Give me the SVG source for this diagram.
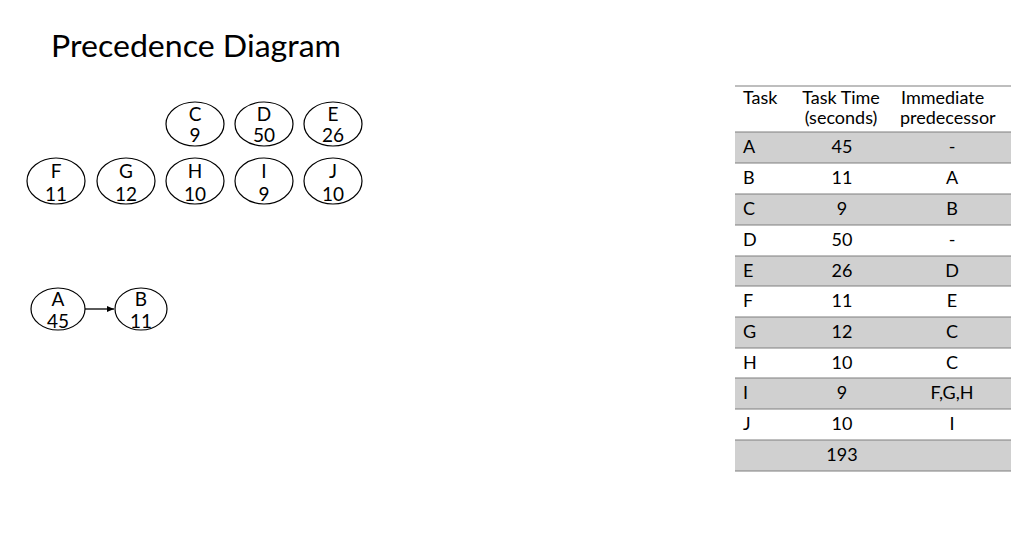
<svg xmlns="http://www.w3.org/2000/svg" width="1024" height="552" viewBox="0 0 1024 552">
<style>
text{font-family:Lato,"Open Sans","Liberation Sans",sans-serif;fill:#000}
.title{font-size:30px}
.n{font-size:19px;text-anchor:middle}
.t{font-size:18px}
.c{text-anchor:middle}
ellipse{fill:#fff;stroke:#000;stroke-width:1.2}
.g{fill:#d0d0d0}
.ln{stroke:#7f7f7f;stroke-width:1.2}
.conn{stroke:#000;stroke-width:1.3;fill:none}
</style>
<defs>
<marker id="ah" markerWidth="8" markerHeight="8" refX="7" refY="4" orient="auto" markerUnits="userSpaceOnUse">
<path d="M0,1 L7,4 L0,7 z" fill="#000"/>
</marker>
</defs>
<rect width="1024" height="552" fill="#fff"/>
<text class="title" x="51" y="57" textLength="290" lengthAdjust="spacingAndGlyphs">Precedence Diagram</text>

<g id="connectors">
<line class="conn" x1="85" y1="309" x2="114" y2="309" marker-end="url(#ah)"/>
</g>

<g id="node-C"><ellipse cx="195" cy="124" rx="29" ry="22"/><text class="n" x="195" y="121">C</text><text class="n" x="195" y="142">9</text></g>
<g id="node-D"><ellipse cx="264" cy="124" rx="29" ry="22"/><text class="n" x="264" y="121">D</text><text class="n" x="264" y="142">50</text></g>
<g id="node-E"><ellipse cx="333" cy="124" rx="29" ry="22"/><text class="n" x="333" y="121">E</text><text class="n" x="333" y="142">26</text></g>
<g id="node-F"><ellipse cx="56" cy="181" rx="29" ry="23"/><text class="n" x="56" y="178">F</text><text class="n" x="56" y="201">11</text></g>
<g id="node-G"><ellipse cx="126" cy="181" rx="29" ry="23"/><text class="n" x="126" y="178">G</text><text class="n" x="126" y="201">12</text></g>
<g id="node-H"><ellipse cx="195" cy="181" rx="29" ry="23"/><text class="n" x="195" y="178">H</text><text class="n" x="195" y="201">10</text></g>
<g id="node-I"><ellipse cx="264" cy="181" rx="29" ry="23"/><text class="n" x="264" y="178">I</text><text class="n" x="264" y="201">9</text></g>
<g id="node-J"><ellipse cx="333" cy="181" rx="29" ry="23"/><text class="n" x="333" y="178">J</text><text class="n" x="333" y="201">10</text></g>
<g id="node-A"><ellipse cx="58" cy="309" rx="27" ry="21"/><text class="n" x="58" y="306">A</text><text class="n" x="58" y="328">45</text></g>
<g id="node-B"><ellipse cx="141" cy="309" rx="26" ry="21"/><text class="n" x="141" y="306">B</text><text class="n" x="141" y="328">11</text></g>

<g id="table">
<rect class="g" x="735" y="132" width="276" height="31"/>
<rect class="g" x="735" y="194" width="276" height="31"/>
<rect class="g" x="735" y="256" width="276" height="30"/>
<rect class="g" x="735" y="317" width="276" height="31"/>
<rect class="g" x="735" y="378" width="276" height="31"/>
<rect class="g" x="735" y="440" width="276" height="31"/>
<g class="ln">
<line x1="735" y1="86" x2="1011" y2="86"/>
<line x1="735" y1="132" x2="1011" y2="132"/>
<line x1="735" y1="163" x2="1011" y2="163"/>
<line x1="735" y1="194" x2="1011" y2="194"/>
<line x1="735" y1="225" x2="1011" y2="225"/>
<line x1="735" y1="256" x2="1011" y2="256"/>
<line x1="735" y1="286" x2="1011" y2="286"/>
<line x1="735" y1="317" x2="1011" y2="317"/>
<line x1="735" y1="348" x2="1011" y2="348"/>
<line x1="735" y1="378" x2="1011" y2="378"/>
<line x1="735" y1="409" x2="1011" y2="409"/>
<line x1="735" y1="440" x2="1011" y2="440"/>
<line x1="735" y1="471" x2="1011" y2="471"/>
</g>
<text class="t" x="743" y="104">Task</text>
<text class="t c" x="841" y="104">Task Time</text>
<text class="t c" x="841" y="124">(seconds)</text>
<text class="t" x="901" y="104">Immediate</text>
<text class="t" x="900" y="124">predecessor</text>

<text class="t" x="743" y="153">A</text><text class="t c" x="842" y="153">45</text><text class="t c" x="952" y="153">-</text>
<text class="t" x="743" y="184">B</text><text class="t c" x="842" y="184">11</text><text class="t c" x="952" y="184">A</text>
<text class="t" x="743" y="215">C</text><text class="t c" x="842" y="215">9</text><text class="t c" x="952" y="215">B</text>
<text class="t" x="743" y="246">D</text><text class="t c" x="842" y="246">50</text><text class="t c" x="952" y="246">-</text>
<text class="t" x="743" y="277">E</text><text class="t c" x="842" y="277">26</text><text class="t c" x="952" y="277">D</text>
<text class="t" x="743" y="307">F</text><text class="t c" x="842" y="307">11</text><text class="t c" x="952" y="307">E</text>
<text class="t" x="743" y="338">G</text><text class="t c" x="842" y="338">12</text><text class="t c" x="952" y="338">C</text>
<text class="t" x="743" y="369">H</text><text class="t c" x="842" y="369">10</text><text class="t c" x="952" y="369">C</text>
<text class="t" x="743" y="399">I</text><text class="t c" x="842" y="399">9</text><text class="t c" x="952" y="399">F,G,H</text>
<text class="t" x="743" y="430">J</text><text class="t c" x="842" y="430">10</text><text class="t c" x="952" y="430">I</text>
<text class="t c" x="842" y="461">193</text>
</g>
</svg>
